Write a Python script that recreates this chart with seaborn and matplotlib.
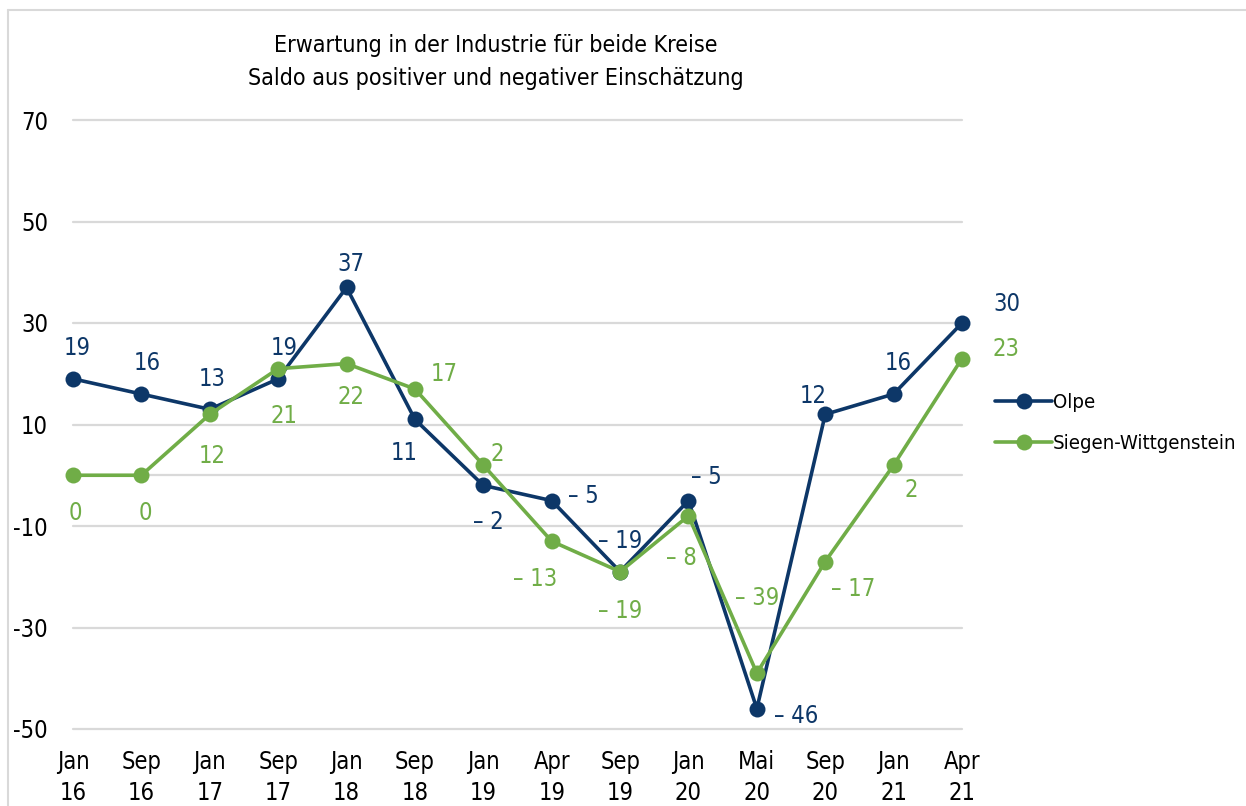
import pandas as pd
import matplotlib.pyplot as plt
import seaborn as sns
from matplotlib.lines import Line2D

# Data
months = ["Jan\n16", "Sep\n16", "Jan\n17", "Sep\n17", "Jan\n18", "Sep\n18", "Jan\n19",
          "Apr\n19", "Sep\n19", "Jan\n20", "Mai\n20", "Sep\n20", "Jan\n21", "Apr\n21"]
olpe = [19, 16, 13, 19, 37, 11, -2, -5, -19, -5, -46, 12, 16, 30]
siegen = [0, 0, 12, 21, 22, 17, 2, -13, -19, -8, -39, -17, 2, 23]
y_ticks = [-50, -30, -10, 10, 30, 50, 70]

NAVY = "#0d3768"
GREEN = "#70ad47"

sns.set_style("white")
plt.rcParams['font.family'] = ['DejaVu Sans']
plt.rcParams['font.stretch'] = 'condensed'
plt.rcParams['text.color'] = 'black'
plt.rcParams['xtick.color'] = 'black'
plt.rcParams['ytick.color'] = 'black'

df = pd.DataFrame({"pos": range(len(months)), "Olpe": olpe, "Siegen-Wittgenstein": siegen})

fig = plt.figure(figsize=(12.46, 8.06), dpi=100)
ax = fig.add_axes([73 / 1246, 77 / 806, (962 - 73) / 1246, (729 - 120) / 806])

for col, color in [("Olpe", NAVY), ("Siegen-Wittgenstein", GREEN)]:
    sns.lineplot(data=df, x="pos", y=col, ax=ax, color=color, linewidth=2.6,
                 marker="o", markersize=11.5, markeredgewidth=0, clip_on=False)

ax.set_xlim(0, len(months) - 1)
ax.set_ylim(-50, 70)
ax.set_yticks(y_ticks)
ax.set_yticklabels([str(v) for v in y_ticks], fontsize=17)
ax.set_xticks(range(len(months)))
ax.set_xticklabels(months, fontsize=17, linespacing=1.4)
ax.tick_params(axis="both", length=0)
ax.tick_params(axis="y", pad=18)
ax.tick_params(axis="x", pad=15)
ax.set_xlabel("")
ax.set_ylabel("")
for s in ax.spines.values():
    s.set_visible(False)
for v in y_ticks + [0]:
    ax.axhline(v, color="#d9d9d9", linewidth=1.6, zorder=0, clip_on=False)


def fmt(v):
    return "\u2013 " + str(abs(v)) if v < 0 else str(v)


# label offsets in points (dx, dy)
olpe_off = [(3, 22), (4, 22), (2, 22), (4, 22), (3, 17), (-8, -24), (4, -26), (23, 3),
            (0, 22), (13, 17), (28, -5), (-9, 13), (3, 22), (32, 14)]
siegen_off = [(2, -27), (3, -27), (2, -30), (4, -34), (3, -24), (21, 11), (10, 8), (-12, -27),
              (0, -28), (-5, -30), (0, 54), (20, -20), (13, -18), (32, 7)]
for i in range(len(months)):
    ax.annotate(fmt(olpe[i]), (i, olpe[i]), xytext=olpe_off[i], textcoords="offset points",
                ha="center", va="center", fontsize=17, color=NAVY)
    ax.annotate(fmt(siegen[i]), (i, siegen[i]), xytext=siegen_off[i], textcoords="offset points",
                ha="center", va="center", fontsize=17, color=GREEN)

fig.text(0.398, 0.943, "Erwartung in der Industrie für beide Kreise", ha="center", va="center",
         fontsize=16.7)
fig.text(0.398, 0.903, "Saldo aus positiver und negativer Einschätzung", ha="center", va="center",
         fontsize=16.7)

handles = [Line2D([], [], color=NAVY, linewidth=2.6, marker="o", markersize=11.5, markeredgewidth=0),
           Line2D([], [], color=GREEN, linewidth=2.6, marker="o", markersize=11.5, markeredgewidth=0)]
fig.legend(handles, ["Olpe", "Siegen-Wittgenstein"], loc="center left",
           bbox_to_anchor=(985 / 1246, 1 - 423 / 806), frameon=False, fontsize=14.6,
           handlelength=2.8, handletextpad=0.05, labelspacing=1.1, borderpad=0)

# chart frame
fig.add_artist(Line2D([8 / 1246, 8 / 1246], [0, 1 - 10 / 806], color="#d9d9d9", linewidth=1.5,
                      transform=fig.transFigure))
fig.add_artist(Line2D([8 / 1246, 1], [1 - 10 / 806, 1 - 10 / 806], color="#d9d9d9", linewidth=1.5,
                      transform=fig.transFigure))

fig.savefig("out.png", dpi=100)
